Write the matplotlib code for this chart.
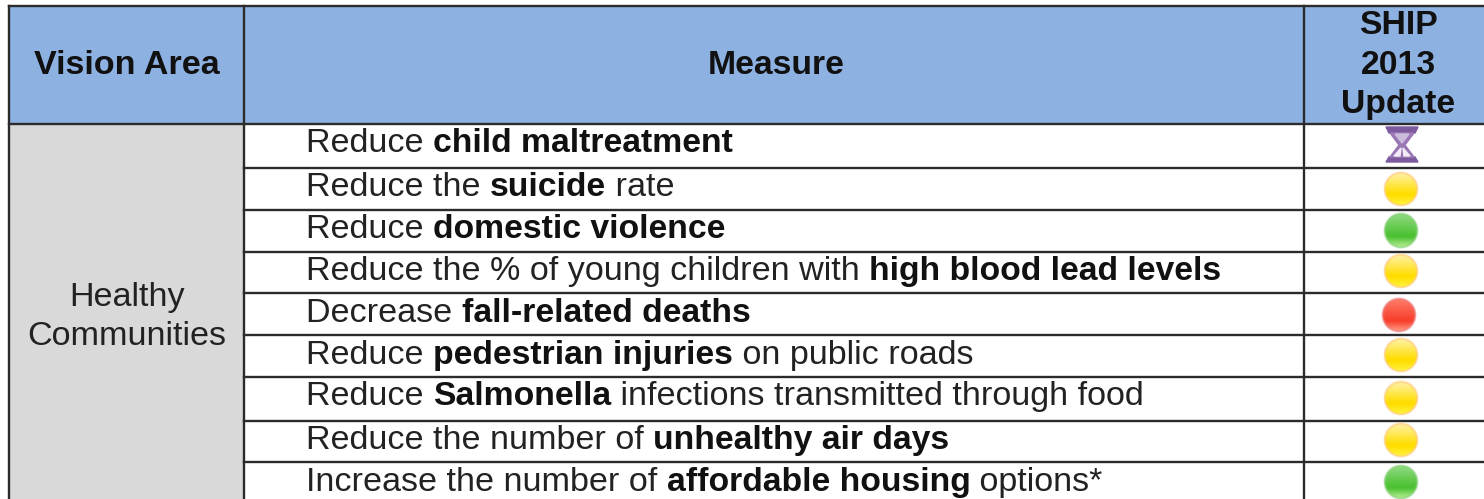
import numpy as np
import matplotlib
matplotlib.use("Agg")
import matplotlib.pyplot as plt
from matplotlib.patches import Rectangle, Polygon

plt.rcParams['font.family'] = ['Liberation Sans', 'DejaVu Sans']

# table content
headers = ["Vision Area", "Measure", "SHIP\n2013\nUpdate"]
vision_area = "Healthy\nCommunities"
measures = [
    [("Reduce ", False), ("child maltreatment", True)],
    [("Reduce the ", False), ("suicide", True), (" rate", False)],
    [("Reduce ", False), ("domestic violence", True)],
    [("Reduce the % of young children with ", False), ("high blood lead levels", True)],
    [("Decrease ", False), ("fall-related deaths", True)],
    [("Reduce ", False), ("pedestrian injuries", True), (" on public roads", False)],
    [("Reduce ", False), ("Salmonella", True), (" infections transmitted through food", False)],
    [("Reduce the number of ", False), ("unhealthy air days", True)],
    [("Increase the number of ", False), ("affordable housing", True), (" options*", False)],
]
status = ["wait", "yellow", "green", "yellow", "red", "yellow", "yellow", "yellow", "green"]

# layout in pixels of the 1484x499 picture
W, H = 1484, 499
col_x = [9, 243.5, 1304, 1490]
row_y = [6, 124, 168, 210, 251.5, 293, 335, 377, 421, 462, 505]
baseline = [152, 196, 238, 280, 322, 364, 405, 449, 491]
ball_y = [145, 189, 231, 271, 315, 355, 398, 440, 482]
FS = 24.55
FS_BOLD = 24.35
BLUE = "#8db1e1"
GREY = "#d9d9d9"
INK = "#111111"

ball_cols = {
    "yellow": ((1.0, 0.95, 0.68), (1.0, 0.87, 0.0), (1.0, 0.96, 0.25), (1.0, 0.80, 0.50), 1401),
    "green": ((0.58, 0.86, 0.52), (0.30, 0.76, 0.20), (0.72, 0.94, 0.58), (0.55, 0.82, 0.50), 1401),
    "red": ((1.0, 0.50, 0.42), (0.97, 0.25, 0.18), (1.0, 0.62, 0.52), (0.93, 0.50, 0.50), 1399),
}


def draw_ball(ax, cx, cy, kind, r=18.0):
    top, mid, low, rim, _ = ball_cols[kind]
    n = 72
    xs = np.linspace(-1, 1, n)
    gx, gy = np.meshgrid(xs, xs)
    d = np.hypot(gx, gy)
    t = np.clip((gy + 0.95) / 1.2, 0, 1)[..., None]
    t2 = np.clip((gy - 0.35) / 0.55, 0, 1)[..., None]
    rgb = np.array(top) * (1 - t) + np.array(mid) * t
    rgb = rgb * (1 - t2) + np.array(low) * t2
    edge = np.clip((d - 0.82) / 0.12, 0, 1)[..., None]
    rgb = rgb * (1 - edge) + np.array(rim) * edge
    alpha = np.clip((1 - d) / 0.08, 0, 1)[..., None]
    ax.imshow(np.dstack([rgb, alpha]), extent=(cx - r, cx + r, cy + r, cy - r),
              interpolation="bilinear", zorder=4)


def draw_hourglass(ax, cx, cy):
    dark = "#7d5a9e"
    ax.add_patch(Polygon([(cx - 16, cy - 18), (cx + 16, cy - 18), (cx + 13, cy - 12), (cx - 13, cy - 12)],
                         closed=True, color=dark, zorder=4))
    ax.add_patch(Polygon([(cx - 13, cy + 12), (cx + 13, cy + 12), (cx + 16, cy + 17), (cx - 16, cy + 17)],
                         closed=True, color=dark, zorder=4))
    ax.add_patch(Polygon([(cx - 12, cy - 12), (cx + 12, cy - 12), (cx + 3, cy), (cx + 12, cy + 12),
                          (cx - 12, cy + 12), (cx - 3, cy)], closed=True, color="#9a78b6", zorder=4))
    ax.add_patch(Polygon([(cx - 7, cy - 11), (cx + 7, cy - 11), (cx, cy - 2)], closed=True,
                         color="#cdbbdc", zorder=5))
    ax.add_patch(Polygon([(cx - 1, cy + 3), (cx - 8, cy + 11), (cx - 2, cy + 11)], closed=True,
                         color="#f2edf7", zorder=5))
    ax.add_patch(Polygon([(cx + 1, cy + 3), (cx + 8, cy + 11), (cx + 2, cy + 11)], closed=True,
                         color="#f2edf7", zorder=5))


fig = plt.figure(figsize=(W / 100, H / 100), dpi=100)
ax = fig.add_axes([0, 0, 1, 1])
ax.axis("off")

# fills
ax.add_patch(Rectangle((col_x[0], row_y[0]), W - col_x[0] + 10, row_y[1] - row_y[0], color=BLUE, lw=0))
ax.add_patch(Rectangle((col_x[0], row_y[1]), col_x[1] - col_x[0], H, color=GREY, lw=0))

# grid lines
line = dict(color="#2b2b2b", lw=1.7, zorder=3)
ax.plot([col_x[0], W + 5], [row_y[0], row_y[0]], **line)
ax.plot([col_x[0], W + 5], [row_y[1], row_y[1]], **line)
for y in row_y[2:-1]:
    ax.plot([col_x[1], W + 5], [y, y], **line)
for x in col_x[:3]:
    ax.plot([x, x], [row_y[0], H + 5], **line)

# header
ax.text(127, 74, headers[0], fontsize=FS_BOLD + 0.2, fontweight="bold", ha="center", va="baseline", color=INK)
ax.text(776, 74, headers[1], fontsize=FS_BOLD, fontweight="bold", ha="center", va="baseline", color=INK)
for part, y in zip(headers[2].split("\n"), [34, 74, 113]):
    ax.text(1398, y, part, fontsize=FS_BOLD, fontweight="bold", ha="center", va="baseline", color=INK)

for part, y in zip(vision_area.split("\n"), [306, 345]):
    ax.text(127, y, part, fontsize=FS, ha="center", va="baseline", color="#222222")

ax.set_xlim(0, W)
ax.set_ylim(H, 0)

# measure rows, each run placed after the one before it
renderer = fig.canvas.get_renderer()
for runs, y in zip(measures, baseline):
    x = 306
    for txt, bold in runs:
        size = FS_BOLD if bold else FS
        weight = "bold" if bold else "normal"
        ax.text(x, y, txt, fontsize=size, fontweight=weight,
                ha="left", va="baseline", color=INK if bold else "#222222")
        # trailing/leading blanks are not measured, so measure with a stand-in
        probe = ax.text(0, 0, txt.replace(" ", "\u00a0") + ".", fontsize=size, fontweight=weight)
        dot = ax.text(0, 0, ".", fontsize=size, fontweight=weight)
        x += probe.get_window_extent(renderer).width - dot.get_window_extent(renderer).width
        probe.remove()
        dot.remove()

# status icons
for s, y in zip(status, ball_y):
    if s == "wait":
        draw_hourglass(ax, 1402, y)
    else:
        draw_ball(ax, ball_cols[s][4], y, s)

ax.set_xlim(0, W)
ax.set_ylim(H, 0)
ax.set_aspect("auto")
fig.savefig("out.png", dpi=100)
